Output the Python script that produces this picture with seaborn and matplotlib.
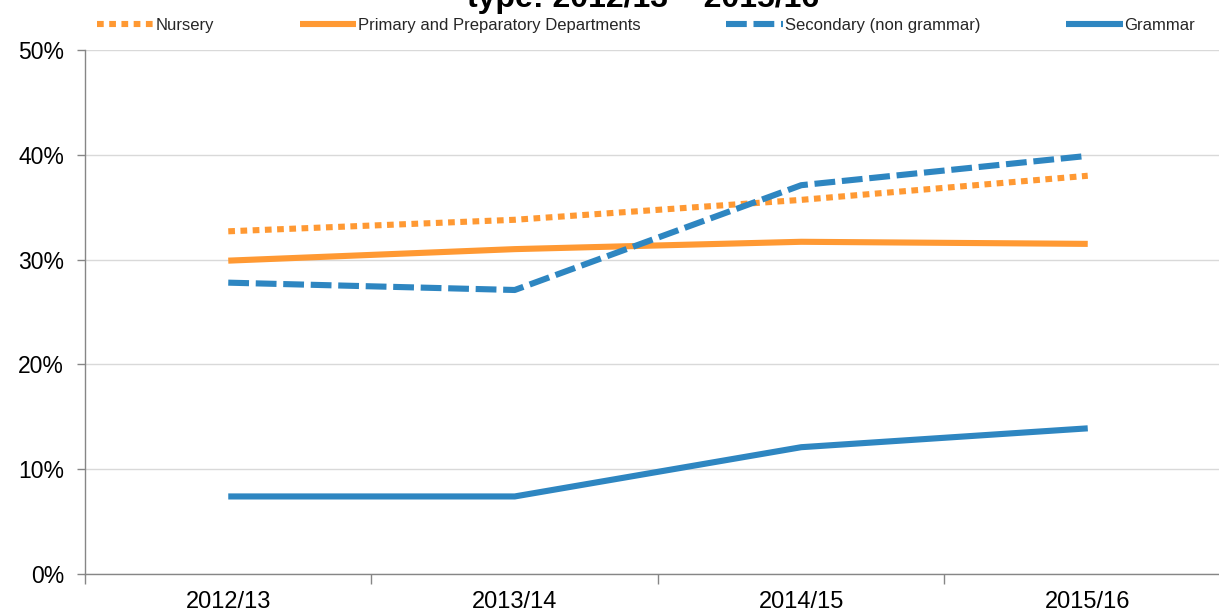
import matplotlib
matplotlib.use("Agg")
import matplotlib.pyplot as plt
import seaborn as sns
import pandas as pd
from matplotlib.ticker import FuncFormatter, MultipleLocator

years = ["2012/13", "2013/14", "2014/15", "2015/16"]
nursery = [32.7, 33.8, 35.7, 38.0]
primary = [29.9, 31.0, 31.7, 31.5]
secondary = [27.8, 27.1, 37.1, 39.9]
grammar = [7.4, 7.4, 12.1, 13.9]
series_names = ["Nursery", "Primary and Preparatory Departments",
                "Secondary (non grammar)", "Grammar"]
title_text = "type: 2012/13 \u2013 2015/16"

orange = "#FF9933"
blue = "#2E86C1"

sns.set_theme(style="white")
plt.rcParams['font.family'] = ['Liberation Sans', 'DejaVu Sans']

fig = plt.figure(figsize=(12.19, 6.15), dpi=100)
ax = fig.add_axes([85/1219, 1-574/615, 1146/1219, (574-50)/615])

styles = [
    dict(color=orange, dashes=(1.1, 0.9)),
    dict(color=orange, dashes=None),
    dict(color=blue, dashes=(3.4, 1.1)),
    dict(color=blue, dashes=None),
]
values = [nursery, primary, secondary, grammar]
for name, vals, st in zip(series_names, values, styles):
    df = pd.DataFrame({"year": years, "value": vals})
    sns.lineplot(data=df, x="year", y="value", ax=ax, sort=False,
                 color=st["color"], linewidth=4.4, label=name,
                 solid_capstyle="butt", dash_capstyle="butt")
    l = ax.get_lines()[-1]
    if st["dashes"] is not None:
        l.set_dashes(st["dashes"])

ax.set_xlim(-0.5, 3.5)
ax.set_ylim(0, 50)
ax.yaxis.set_major_locator(MultipleLocator(10))
ax.yaxis.set_major_formatter(FuncFormatter(lambda v, p: f"{int(round(v))}%"))
ax.set_xlabel("")
ax.set_ylabel("")
ax.grid(axis="y", color="#d9d9d9", linewidth=1.0)
ax.set_axisbelow(True)

for s in ["top", "right"]:
    ax.spines[s].set_visible(False)
ax.spines["left"].set_color("#868686")
ax.spines["bottom"].set_color("#868686")
ax.spines["left"].set_linewidth(1.0)
ax.spines["bottom"].set_linewidth(1.0)

ax.tick_params(axis="y", left=True, length=6, width=1, color="#868686",
               labelsize=16.5, labelcolor="black", pad=9)
ax.set_xticks([0, 1, 2, 3])
ax.set_xticklabels(years)
ax.tick_params(axis="x", bottom=False, length=0, labelsize=17,
               labelcolor="black", pad=12)
ax.set_xticks([-0.5, 0.5, 1.5, 2.5, 3.5], minor=True)
ax.tick_params(axis="x", which="minor", bottom=True, length=7, width=1,
               color="#868686")

if ax.legend_:
    ax.legend_.remove()
handles, labels = ax.get_legend_handles_labels()
fig.legend(handles, labels, loc="lower left", ncol=4, mode="expand",
           bbox_to_anchor=(97/1219, 1-33/615, (1195-97)/1219, 0.02),
           frameon=False, fontsize=12, handlelength=3.4,
           handletextpad=0.1, borderaxespad=0, borderpad=0)

fig.text(643/1219, 1-7/615, title_text, ha="center", va="baseline",
         fontsize=23, fontweight="bold", color="black")

fig.savefig("out.png", dpi=100)
